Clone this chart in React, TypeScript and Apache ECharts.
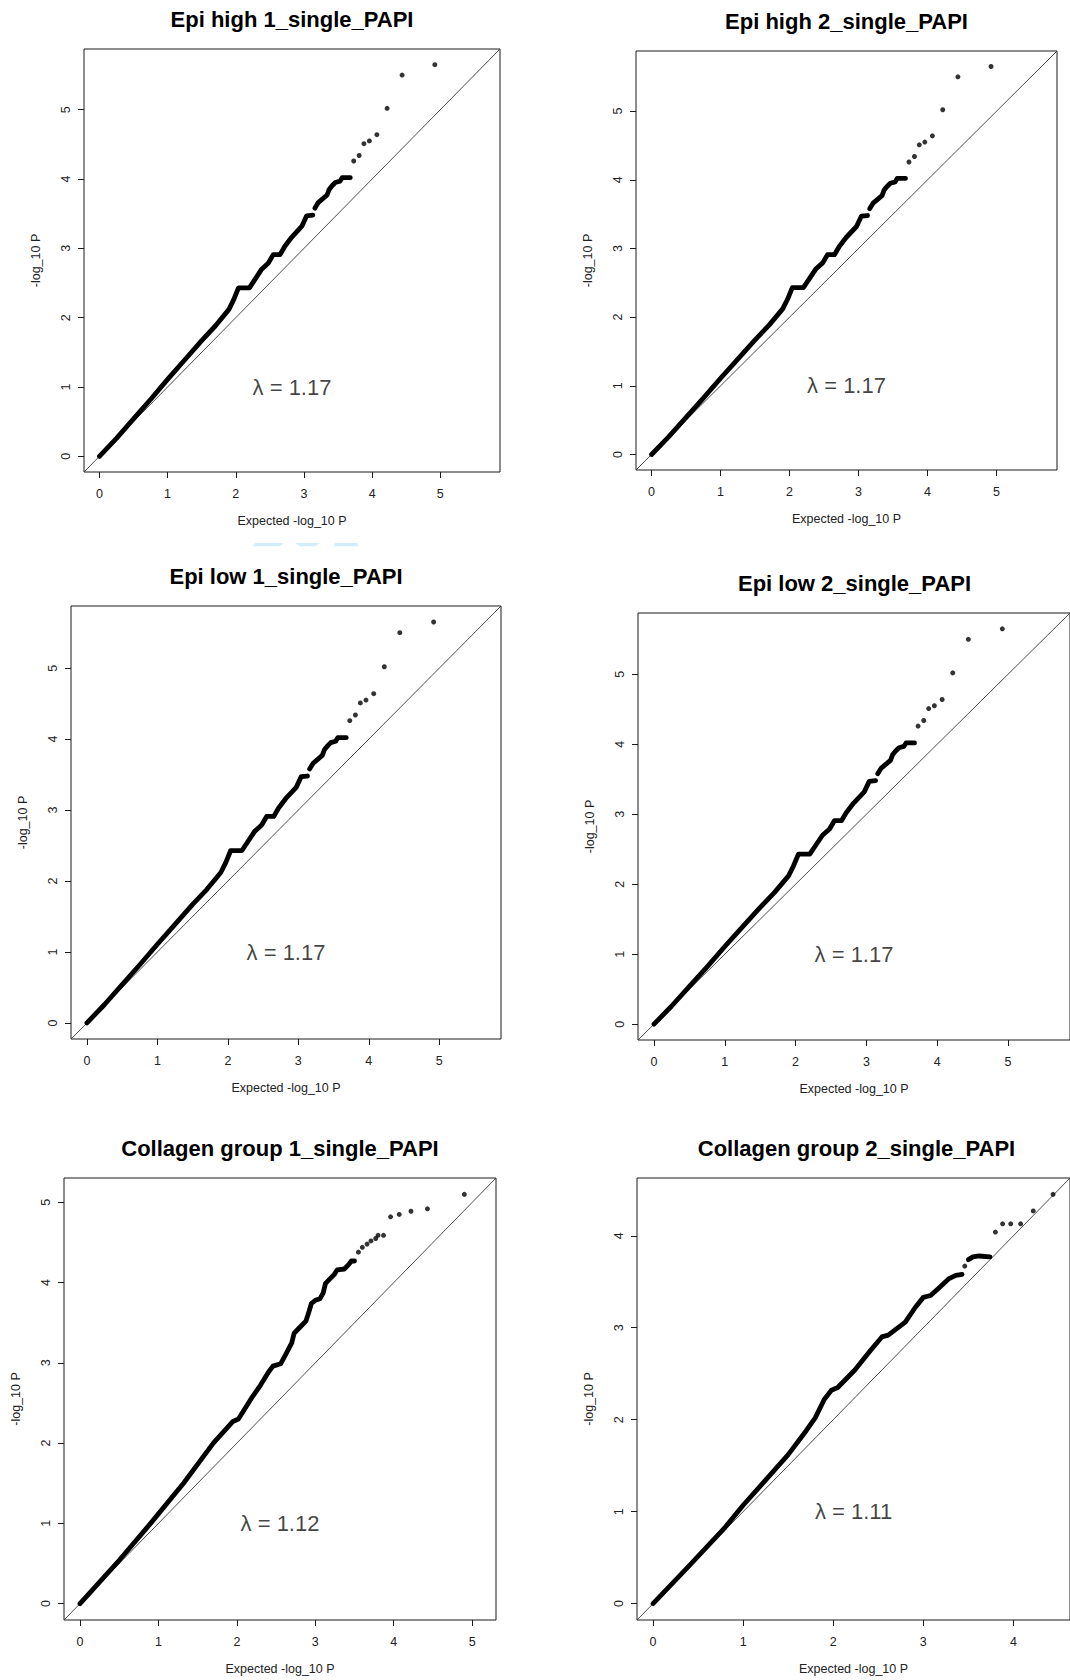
import { useEffect, useRef } from "react";
import * as echarts from "echarts";

// Panel titles, in reading order (left to right, top to bottom)
const panelTitles = [
  "Epi high 1_single_PAPI",
  "Epi high 2_single_PAPI",
  "Epi low 1_single_PAPI",
  "Epi low 2_single_PAPI",
  "Collagen group 1_single_PAPI",
  "Collagen group 2_single_PAPI",
];

// Genomic inflation factor shown in each panel
const lambdas = [1.17, 1.17, 1.17, 1.17, 1.12, 1.11];

// Tick values
const epiTicks = [0, 1, 2, 3, 4, 5];
const collagen1Ticks = [0, 1, 2, 3, 4, 5];
const collagen2Ticks = [0, 1, 2, 3, 4];

// Epi runs: [expected -log10 P, observed -log10 P]
const epiBand = [
  [0, 0], [0.25, 0.26], [0.5, 0.54], [0.75, 0.82], [1.0, 1.11], [1.25, 1.39],
  [1.5, 1.67], [1.7, 1.88], [1.9, 2.12], [1.97, 2.26], [2.04, 2.43], [2.2, 2.43],
  [2.28, 2.55], [2.38, 2.7], [2.48, 2.79], [2.55, 2.91], [2.65, 2.91], [2.72, 3.03],
  [2.82, 3.16], [2.97, 3.32], [3.04, 3.47], [3.13, 3.48],
];
const epiBandUpper = [
  [3.16, 3.58], [3.21, 3.66], [3.34, 3.77], [3.37, 3.85], [3.41, 3.9], [3.46, 3.95],
  [3.53, 3.97], [3.56, 4.02], [3.68, 4.02],
];
const epiTail = [
  [3.73, 4.26], [3.81, 4.34], [3.88, 4.51], [3.96, 4.55], [4.07, 4.64],
  [4.22, 5.02], [4.44, 5.5], [4.92, 5.65],
];

// Collagen group 1
const collagen1Band = [
  [0, 0], [0.5, 0.54], [0.9, 1.0], [1.32, 1.5], [1.7, 2.0], [1.95, 2.27], [2.02, 2.3],
  [2.2, 2.58], [2.3, 2.72], [2.4, 2.88], [2.46, 2.96], [2.56, 2.99], [2.62, 3.1],
  [2.7, 3.25], [2.73, 3.37], [2.81, 3.45], [2.88, 3.52], [2.92, 3.64], [2.95, 3.74],
  [3.0, 3.78], [3.06, 3.8], [3.1, 3.87], [3.13, 3.99], [3.18, 4.04], [3.24, 4.1],
  [3.28, 4.16], [3.37, 4.17], [3.43, 4.23], [3.46, 4.27], [3.5, 4.27],
];
const collagen1Tail = [
  [3.55, 4.38], [3.6, 4.44], [3.66, 4.48], [3.71, 4.52], [3.77, 4.55], [3.8, 4.59],
  [3.87, 4.59], [3.96, 4.82], [4.07, 4.85], [4.22, 4.89], [4.43, 4.92], [4.9, 5.1],
];

// Collagen group 2
const collagen2Band = [
  [0, 0], [0.4, 0.41], [0.8, 0.83], [1.0, 1.07], [1.5, 1.62], [1.7, 1.88], [1.8, 2.02],
  [1.9, 2.22], [1.98, 2.32], [2.05, 2.35], [2.24, 2.54], [2.42, 2.76], [2.54, 2.9],
  [2.61, 2.92], [2.8, 3.06], [2.91, 3.22], [3.0, 3.33], [3.08, 3.35], [3.17, 3.43],
  [3.28, 3.53], [3.36, 3.57], [3.43, 3.58],
];
const collagen2Arc = [
  [3.5, 3.74], [3.55, 3.77], [3.62, 3.78], [3.74, 3.77],
];
const collagen2Tail = [
  [3.46, 3.67], [3.8, 4.04], [3.88, 4.13], [3.97, 4.13], [4.08, 4.13], [4.22, 4.27],
  [4.44, 4.45],
];

type Pt = number[];
interface Panel {
  segments: Pt[][];
  dots: Pt[];
  ticks: number[];
}

const panels: Panel[] = [
  { segments: [epiBand, epiBandUpper], dots: epiTail, ticks: epiTicks },
  { segments: [epiBand, epiBandUpper], dots: epiTail, ticks: epiTicks },
  { segments: [epiBand, epiBandUpper], dots: epiTail, ticks: epiTicks },
  { segments: [epiBand, epiBandUpper], dots: epiTail, ticks: epiTicks },
  { segments: [collagen1Band], dots: collagen1Tail, ticks: collagen1Ticks },
  { segments: [collagen2Band, collagen2Arc], dots: collagen2Tail, ticks: collagen2Ticks },
];

// Plot boxes in page pixels
const boxes = [
  { left: 84, top: 49, right: 500, bottom: 472 },
  { left: 636, top: 51, right: 1057, bottom: 470 },
  { left: 71, top: 606, right: 501, bottom: 1039 },
  { left: 638, top: 613, right: 1071, bottom: 1040 },
  { left: 64, top: 1178, right: 496, bottom: 1620 },
  { left: 637, top: 1178, right: 1076, bottom: 1620 },
];

const FONT = "'Liberation Sans', Arial, Helvetica, sans-serif";

function buildOption() {
  const grid: any[] = [];
  const xAxis: any[] = [];
  const yAxis: any[] = [];
  const series: any[] = [];
  const graphic: any[] = [];

  panels.forEach((p, i) => {
    const all = [...p.segments.flat(), ...p.dots];
    const hi = Math.max(...all.map((d) => Math.max(d[0], d[1])));
    // R-style 4% range extension around [0, hi]
    const lo = -0.04 * hi;
    const up = hi * 1.04;
    const b = boxes[i];

    grid.push({
      left: b.left,
      top: b.top,
      width: b.right - b.left,
      height: b.bottom - b.top,
      show: true,
      borderColor: "#1a1a1a",
      borderWidth: 1,
      backgroundColor: "transparent",
    });

    const tickStyle = { color: "#1a1a1a", width: 1 };
    const labelText = { fontFamily: FONT, fontSize: 12.5, color: "#222" };

    xAxis.push({
      gridIndex: i,
      type: "value",
      min: lo,
      max: up,
      name: "Expected -log_10 P",
      nameLocation: "middle",
      nameGap: 42,
      nameTextStyle: labelText,
      axisLine: { show: false, onZero: false },
      axisTick: { show: true, inside: false, length: 6, lineStyle: tickStyle, customValues: p.ticks },
      axisLabel: { ...labelText, margin: 15, customValues: p.ticks },
      splitLine: { show: false },
    });
    yAxis.push({
      gridIndex: i,
      type: "value",
      min: lo,
      max: up,
      name: "-log_10 P",
      nameLocation: "middle",
      nameGap: 42,
      nameTextStyle: labelText,
      axisLine: { show: false, onZero: false },
      axisTick: { show: true, inside: false, length: 6, lineStyle: tickStyle, customValues: p.ticks },
      axisLabel: { ...labelText, margin: 12, rotate: 90, customValues: p.ticks },
      splitLine: { show: false },
    });

    // identity line y = x across the whole box
    series.push({
      type: "line",
      xAxisIndex: i,
      yAxisIndex: i,
      data: [[lo, lo], [up, up]],
      symbol: "none",
      silent: true,
      lineStyle: { color: "#3a3a3a", width: 0.9 },
      z: 1,
    });

    p.segments.forEach((seg) => {
      series.push({
        type: "line",
        xAxisIndex: i,
        yAxisIndex: i,
        data: seg,
        symbol: "none",
        silent: true,
        lineStyle: { color: "#000", width: 4.8, cap: "round", join: "round" },
        z: 3,
      });
    });

    series.push({
      type: "scatter",
      xAxisIndex: i,
      yAxisIndex: i,
      data: p.dots,
      symbol: "circle",
      symbolSize: 5,
      silent: true,
      itemStyle: { color: "#000" },
      z: 3,
    });

    // lambda annotation at (centre of x range, 1)
    series.push({
      type: "scatter",
      xAxisIndex: i,
      yAxisIndex: i,
      data: [[(lo + up) / 2, 1]],
      symbolSize: 1,
      silent: true,
      itemStyle: { color: "rgba(0,0,0,0)" },
      label: {
        show: true,
        position: "inside",
        formatter: `λ = ${lambdas[i].toFixed(2)}`,
        fontFamily: FONT,
        fontSize: 22,
        color: "#111",
      },
      z: 4,
    });

    graphic.push({
      type: "text",
      x: (b.left + b.right) / 2,
      y: b.top - 30,
      style: {
        text: panelTitles[i],
        x: 0,
        y: 0,
        textAlign: "center",
        textVerticalAlign: "middle",
        fontFamily: FONT,
        fontWeight: "bold",
        fontSize: 22,
        fill: "#000",
      },
    });
  });

  // faint blue marks above the middle-left panel
  const marks = [
    [[255, 543], [284, 543], [280, 546.3], [252.7, 546.3]],
    [[295, 543], [320, 543], [315, 546.3], [300, 546.3]],
    [[335, 543], [357.7, 543], [357.7, 546.3], [333.3, 546.3]],
  ];
  marks.forEach((pts) =>
    graphic.push({ type: "polygon", shape: { points: pts }, style: { fill: "#d3eefa" }, silent: true })
  );

  return {
    animation: false,
    backgroundColor: "#fff",
    grid,
    xAxis,
    yAxis,
    series,
    graphic,
  };
}

export default function App() {
  const ref = useRef<HTMLDivElement>(null);

  useEffect(() => {
    if (!ref.current) return;
    const chart = echarts.init(ref.current, undefined, { renderer: "svg" });
    chart.setOption(buildOption() as any);
    return () => chart.dispose();
  }, []);

  return (
    <div
      ref={ref}
      style={{
        position: "absolute",
        left: 0,
        top: 0,
        width: 1070,
        height: 1680,
        overflow: "hidden",
        background: "#fff",
      }}
    />
  );
}
